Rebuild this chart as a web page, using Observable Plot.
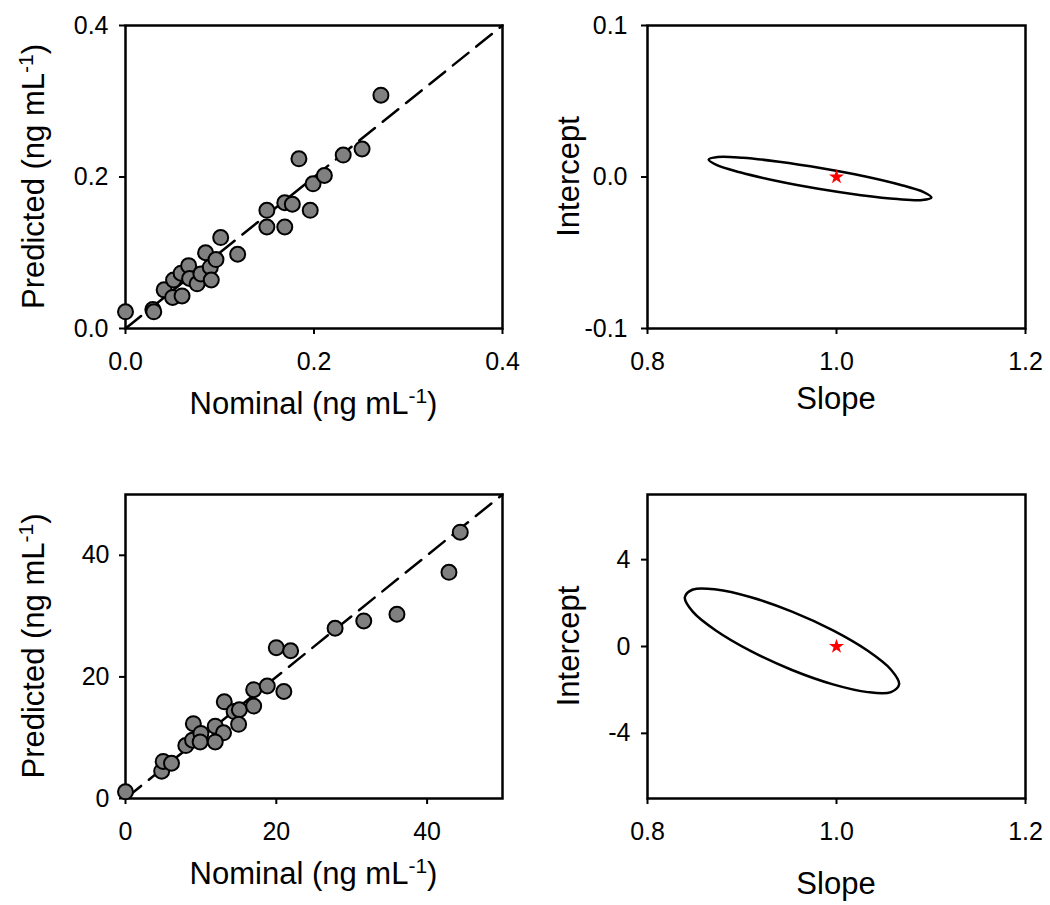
<!DOCTYPE html>
<html><head><meta charset="utf-8">
<script src="https://cdn.jsdelivr.net/npm/d3@7"></script>
<script src="https://cdn.jsdelivr.net/npm/@observablehq/plot@0.6"></script>
<style>
html,body{margin:0;padding:0;background:#fff;}
#wrap{position:relative;width:1050px;height:905px;background:#fff;overflow:hidden;}
#wrap svg{position:absolute;}
</style></head><body><div id="wrap"></div>
<script>
// ---- data ----
const lowNominal   = [0.000,0.029,0.030,0.041,0.050,0.051,0.059,0.060,0.067,0.068,0.076,0.080,0.085,0.090,0.091,0.096,0.101,0.119,0.150,0.150,0.169,0.177,0.169,0.184,0.196,0.199,0.211,0.231,0.251,0.271];
const lowPredicted = [0.022,0.025,0.022,0.051,0.041,0.064,0.073,0.043,0.083,0.066,0.059,0.072,0.100,0.081,0.064,0.091,0.120,0.098,0.156,0.134,0.166,0.164,0.134,0.224,0.156,0.191,0.202,0.229,0.237,0.308];

const highNominal   = [0,4.8,5.0,6.1,8.0,9.0,8.9,10.0,9.9,11.9,13.0,11.9,13.1,14.4,15.1,15.0,17.0,17.0,18.8,21.0,20.0,21.9,27.8,31.6,36.0,42.9,44.4];
const highPredicted = [1.1,4.5,6.1,5.8,8.7,12.3,9.6,10.7,9.3,11.9,10.8,9.3,15.9,14.3,14.6,12.2,15.2,17.9,18.5,17.6,24.8,24.3,28.0,29.2,30.3,37.2,43.8];

const ellipseLowSlope     = [1.1004,1.0907,1.0646,1.0259,0.9807,0.9357,0.8979,0.8729,0.8647,0.8743,0.9005,0.9391,0.9844,1.0294,1.0672,1.0922];
const ellipseLowIntercept = [-0.0135,-0.0152,-0.0146,-0.0120,-0.0078,-0.0025,0.0031,0.0080,0.0115,0.0132,0.0127,0.0101,0.0058,0.0005,-0.0051,-0.0100];
const ellipseHighSlope     = [1.0663,1.0577,1.0331,0.9963,0.9529,0.9095,0.8727,0.8481,0.8395,0.8481,0.8727,0.9095,0.9529,0.9963,1.0331,1.0577];
const ellipseHighIntercept = [-1.735,-2.098,-2.101,-1.744,-1.082,-0.215,0.725,1.594,2.261,2.624,2.627,2.270,1.608,0.741,-0.199,-1.068];

const idealSlope = [1.0];
const idealIntercept = [0];

const lowDomain = [0, 0.4];
const lowTicks = [0, 0.2, 0.4];
const highDomain = [0, 50];
const highTicks = [0, 20, 40];
const slopeDomain = [0.8, 1.2];
const slopeTicks = [0.8, 1.0, 1.2];
const lowInterceptDomain = [-0.1, 0.1];
const lowInterceptTicks = [-0.1, 0, 0.1];
const highInterceptDomain = [-7, 7];
const highInterceptTicks = [-4, 0, 4];

const titleNominal = ["Nominal (ng mL", "-1", ")"];
const titlePredicted = ["Predicted (ng mL", "-1", ")"];
const titleSlope = ["Slope"];
const titleIntercept = ["Intercept"];

// ---- drawing ----
const fontFamily = "'Liberation Sans', Arial, Helvetica, sans-serif";
const wrap = document.getElementById("wrap");
const rows = (xs, ys) => xs.map((x, i) => ({x, y: ys[i]}));
const f1 = d => d.toFixed(1);
const f0 = d => String(d);

function addTitle(svg, x, y, rotate, parts) {
  const t = d3.select(svg).append("text")
    .attr("transform", `translate(${x},${y}) rotate(${rotate})`)
    .attr("text-anchor", "middle")
    .attr("font-family", fontFamily)
    .attr("font-size", 31)
    .attr("fill", "black");
  t.append("tspan").text(parts[0]);
  if (parts.length > 1) {
    t.append("tspan").attr("font-size", 21).attr("dy", -11).text(parts[1]);
    t.append("tspan").attr("dy", 11).text(parts[2]);
  }
}

function panel(cfg) {
  const svg = Plot.plot({
    width: 525, height: 435,
    marginLeft: cfg.marginLeft, marginRight: cfg.marginRight,
    marginTop: cfg.marginTop, marginBottom: 107,
    style: {fontFamily, color: "black", background: "white", overflow: "visible"},
    x: {domain: cfg.xDomain, label: null},
    y: {domain: cfg.yDomain, label: null},
    marks: [
      Plot.frame({stroke: "black", strokeWidth: 2.5}),
      Plot.axisX({ticks: cfg.xTicks, tickFormat: cfg.xFormat, tickSize: 6, tickPadding: 18, fontSize: 25, strokeWidth: 2, label: null}),
      Plot.axisY({ticks: cfg.yTicks, tickFormat: cfg.yFormat, tickSize: 6, tickPadding: cfg.yPad, fontSize: 25, strokeWidth: 2, label: null}),
      ...cfg.marks
    ]
  });
  svg.style.left = cfg.left + "px";
  svg.style.top = cfg.top + "px";
  addTitle(svg, cfg.xTitlePos[0], cfg.xTitlePos[1], 0, cfg.xTitle);
  addTitle(svg, cfg.yTitlePos[0], cfg.yTitlePos[1], -90, cfg.yTitle);
  wrap.appendChild(svg);
}

function scatterMarks(nom, pred, domain) {
  return [
    Plot.line(domain.map(v => ({x: v, y: v})), {x: "x", y: "y", stroke: "black", strokeWidth: 2.5, strokeDasharray: "20,10"}),
    Plot.dot(rows(nom, pred), {x: "x", y: "y", r: 7.5, fill: "#808080", stroke: "black", strokeWidth: 2})
  ];
}
function ellipseMarks(sl, ic) {
  return [
    Plot.line(rows(sl, ic), {x: "x", y: "y", curve: "catmull-rom-closed", stroke: "black", strokeWidth: 2.5}),
    Plot.dot(rows(idealSlope, idealIntercept), {x: "x", y: "y", symbol: "star", r: 4.7, fill: "red", stroke: "none"})
  ];
}

panel({left: 0, top: 0, marginLeft: 125, marginRight: 23, marginTop: 25, yPad: 11,
  xDomain: lowDomain, yDomain: lowDomain, xTicks: lowTicks, yTicks: lowTicks, xFormat: f1, yFormat: f1,
  marks: scatterMarks(lowNominal, lowPredicted, lowDomain),
  xTitle: titleNominal, xTitlePos: [313.5, 414], yTitle: titlePredicted, yTitlePos: [44, 176.5]});

panel({left: 0, top: 470, marginLeft: 125, marginRight: 23, marginTop: 24, yPad: 10,
  xDomain: highDomain, yDomain: highDomain, xTicks: highTicks, yTicks: highTicks, xFormat: f0, yFormat: f0,
  marks: scatterMarks(highNominal, highPredicted, highDomain),
  xTitle: titleNominal, xTitlePos: [313.5, 414], yTitle: titlePredicted, yTitlePos: [44, 176]});

panel({left: 525, top: 0, marginLeft: 122, marginRight: 25, marginTop: 25, yPad: 14,
  xDomain: slopeDomain, yDomain: lowInterceptDomain, xTicks: slopeTicks, yTicks: lowInterceptTicks, xFormat: f1, yFormat: f1,
  marks: ellipseMarks(ellipseLowSlope, ellipseLowIntercept),
  xTitle: titleSlope, xTitlePos: [311, 408.5], yTitle: titleIntercept, yTitlePos: [54, 176.5]});

panel({left: 525, top: 470, marginLeft: 122, marginRight: 25, marginTop: 24, yPad: 11,
  xDomain: slopeDomain, yDomain: highInterceptDomain, xTicks: slopeTicks, yTicks: highInterceptTicks, xFormat: f1, yFormat: f0,
  marks: ellipseMarks(ellipseHighSlope, ellipseHighIntercept),
  xTitle: titleSlope, xTitlePos: [311, 423.5], yTitle: titleIntercept, yTitlePos: [54, 176]});
</script>
</body></html>
